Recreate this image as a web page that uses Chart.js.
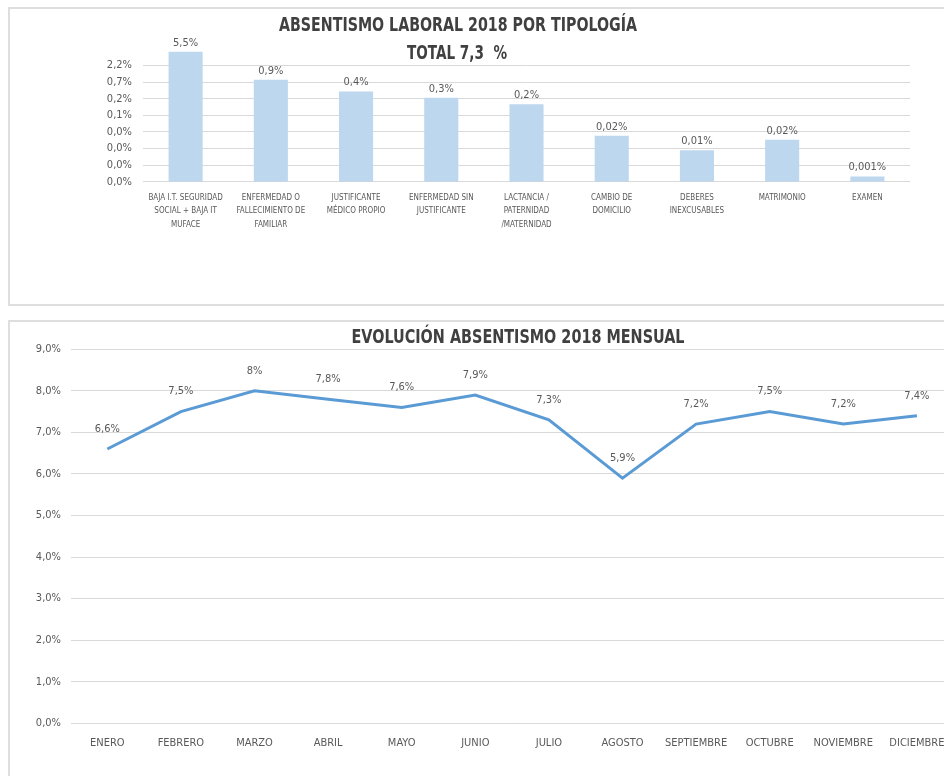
<!DOCTYPE html>
<html lang="es">
<head>
<meta charset="utf-8">
<title>Absentismo laboral 2018</title>
<script src="https://cdn.jsdelivr.net/npm/chart.js@4.4.1/dist/chart.umd.min.js"></script>
<style>
  body { margin: 0; background: #fff; overflow: hidden; width: 944px; height: 776px; position: relative; }
  .marco { position: absolute; left: 8px; border: 2px solid #dedede; box-sizing: border-box; }
  #marco1 { top: 7px; width: 1000px; height: 299px; }
  #marco2 { top: 320px; width: 1000px; height: 520px; }
  canvas { position: absolute; left: 0; }
  #tipologia { top: 0; }
  #mensual { top: 312px; }
</style>
</head>
<body>
<div class="marco" id="marco1"></div>
<div class="marco" id="marco2"></div>
<canvas id="tipologia" width="944" height="310"></canvas>
<canvas id="mensual" width="1040" height="464"></canvas>

<script>
// datos (porcentajes)
const tipologias = [
  ["BAJA I.T. SEGURIDAD", "SOCIAL + BAJA IT", "MUFACE"],
  ["ENFERMEDAD O", "FALLECIMIENTO DE", "FAMILIAR"],
  ["JUSTIFICANTE", "MÉDICO PROPIO"],
  ["ENFERMEDAD SIN", "JUSTIFICANTE"],
  ["LACTANCIA /", "PATERNIDAD", "/MATERNIDAD"],
  ["CAMBIO DE", "DOMICILIO"],
  ["DEBERES", "INEXCUSABLES"],
  ["MATRIMONIO"],
  ["EXAMEN"],
];
const tipologiaValores = [5.5, 0.86, 0.39, 0.26, 0.17, 0.021, 0.008, 0.016, 0.0014];
// eje logarítmico de base 3 del original
const tipologiaTicks = [0.001, 0.003, 0.009, 0.027, 0.081, 0.243, 0.729, 2.187];

const meses = ["ENERO", "FEBRERO", "MARZO", "ABRIL", "MAYO", "JUNIO", "JULIO",
  "AGOSTO", "SEPTIEMBRE", "OCTUBRE", "NOVIEMBRE", "DICIEMBRE"];
const mensualValores = [6.6, 7.5, 8, 7.8, 7.6, 7.9, 7.3, 5.9, 7.2, 7.5, 7.2, 7.4];

const FUENTE = "'Liberation Sans Narrow', 'DejaVu Sans Condensed', 'Open Sans', sans-serif";
const GRIS = "#595959";
const REJILLA = "#d9d9d9";

const coma = (txt) => txt.replace(".", ",");

const formatoTipologia = (v) => {
  let dec = 3;
  if (v >= 0.1) dec = 1;
  else if (v >= 0.005) dec = 2;
  return coma(v.toFixed(dec)) + "%";
};
const formatoMensual = (v) =>
  (Number.isInteger(v) ? String(v) : coma(v.toFixed(1))) + "%";

// etiquetas de datos encima de cada barra / punto
function crearEtiquetas(formato, font, offset) {
  return {
    id: "etiquetas",
    afterDatasetsDraw(chart) {
      const ctx = chart.ctx;
      const meta = chart.getDatasetMeta(0);
      const datos = chart.data.datasets[0].data;
      ctx.save();
      ctx.font = font;
      ctx.fillStyle = GRIS;
      ctx.textAlign = "center";
      ctx.textBaseline = "middle";
      meta.data.forEach((el, i) => {
        ctx.fillText(formato(datos[i]), el.x, el.y - offset);
      });
      ctx.restore();
    },
  };
}

// títulos con ancho máximo (la fuente del original es más estrecha)
function crearTitulos(lineas) {
  return {
    id: "titulos",
    afterDraw(chart) {
      const ctx = chart.ctx;
      ctx.save();
      ctx.fillStyle = "#404040";
      ctx.textAlign = "center";
      ctx.textBaseline = "middle";
      lineas.forEach((l) => {
        ctx.font = l.font;
        ctx.fillText(l.text, l.x, l.y, l.ancho);
      });
      ctx.restore();
    },
  };
}

new Chart(document.getElementById("tipologia"), {
  type: "bar",
  data: {
    labels: tipologias,
    datasets: [
      {
        data: tipologiaValores,
        backgroundColor: "#bdd7ee",
        categoryPercentage: 1,
        barPercentage: 0.4,
      },
    ],
  },
  options: {
    responsive: false,
    animation: false,
    layout: { padding: { top: 49, right: 34, left: 0, bottom: 0 } },
    plugins: { legend: { display: false }, tooltip: { enabled: false } },
    scales: {
      x: {
        grid: { display: false, drawTicks: false },
        border: { display: false },
        ticks: {
          color: GRIS,
          padding: 9,
          maxRotation: 0,
          autoSkip: false,
          font: { family: FUENTE, size: 8, lineHeight: 1.7 },
        },
        afterFit: (scale) => { scale.height = 128.3; },
      },
      y: {
        type: "logarithmic",
        min: 0.001,
        max: 6.561,
        grid: { color: REJILLA, lineWidth: 1, drawTicks: false },
        border: { display: false },
        ticks: {
          color: GRIS,
          padding: 11,
          font: { family: FUENTE, size: 11 },
          callback: (v) => coma(Number(v).toFixed(1)) + "%",
        },
        afterBuildTicks: (scale) => {
          scale.ticks = tipologiaTicks.map((v) => ({ value: v }));
        },
        afterFit: (scale) => { scale.width = 143; },
      },
    },
  },
  plugins: [
    crearEtiquetas(formatoTipologia, "11px " + FUENTE, 9),
    crearTitulos([
      { text: "ABSENTISMO LABORAL 2018 POR TIPOLOGÍA", x: 458, y: 26, font: "bold 19px " + FUENTE, ancho: 358 },
      { text: "TOTAL 7,3  %", x: 457, y: 54, font: "bold 19px " + FUENTE, ancho: 100 },
    ]),
  ],
});

new Chart(document.getElementById("mensual"), {
  type: "line",
  data: {
    labels: meses,
    datasets: [
      {
        data: mensualValores,
        borderColor: "#5b9bd5",
        borderWidth: 3,
        pointRadius: 0,
        tension: 0,
        fill: false,
      },
    ],
  },
  options: {
    responsive: false,
    animation: false,
    layout: { padding: { top: 37.3, right: 86.3, left: 0, bottom: 0 } },
    plugins: { legend: { display: false }, tooltip: { enabled: false } },
    scales: {
      x: {
        offset: true,
        grid: { display: false, drawTicks: false },
        border: { display: false },
        ticks: {
          color: GRIS,
          padding: 13,
          maxRotation: 0,
          autoSkip: false,
          font: { family: FUENTE, size: 11 },
        },
        afterFit: (scale) => { scale.height = 52.7; },
      },
      y: {
        min: 0,
        max: 9,
        grid: { color: REJILLA, lineWidth: 1, drawTicks: false },
        border: { display: false },
        ticks: {
          stepSize: 1,
          color: GRIS,
          padding: 9.5,
          font: { family: FUENTE, size: 11 },
          callback: (v) => coma(Number(v).toFixed(1)) + "%",
        },
        afterFit: (scale) => { scale.width = 70.5; },
      },
    },
  },
  plugins: [
    crearEtiquetas(formatoMensual, "11px " + FUENTE, 20),
    crearTitulos([
      { text: "EVOLUCIÓN ABSENTISMO 2018 MENSUAL", x: 518, y: 338 - 312, font: "bold 19px " + FUENTE, ancho: 333 },
    ]),
  ],
});
</script>
</body>
</html>
